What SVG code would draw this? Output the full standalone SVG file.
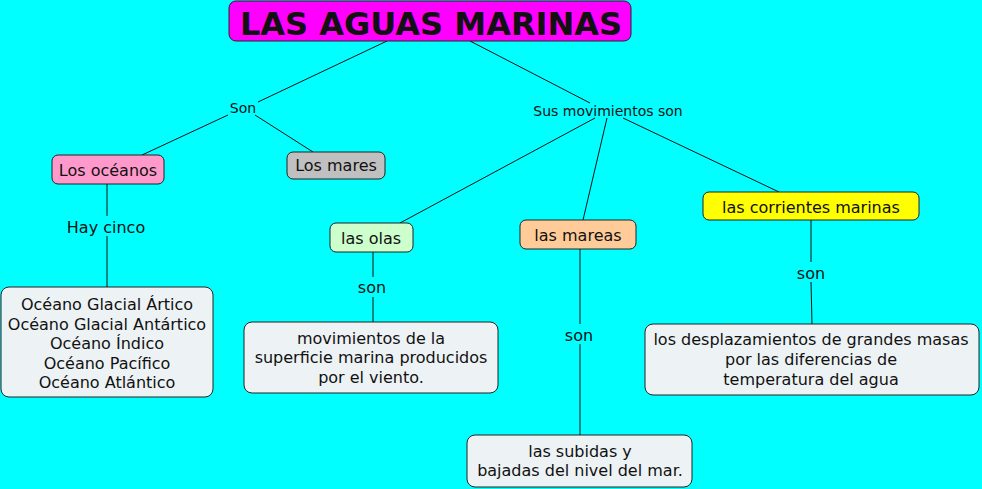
<svg xmlns="http://www.w3.org/2000/svg" width="982" height="489" viewBox="0 0 982 489">
<style>
.bg{fill:#00ffff}
.n{stroke:#222;stroke-width:1}
.c line{stroke:#111;stroke-width:1}
text{font-family:"DejaVu Sans",Verdana,sans-serif;fill:#111;text-anchor:middle}
.t{font-size:16px}
.l{font-size:14px}
.h{font-size:32px;font-weight:bold}
.box{fill:#edf2f5}
</style>
<rect class="bg" width="982" height="489"/>
<g class="c">
<line x1="387" y1="41" x2="258" y2="102"/>
<line x1="228" y1="115" x2="142" y2="155"/>
<line x1="255" y1="115" x2="313" y2="152"/>
<line x1="470" y1="41" x2="590" y2="103"/>
<line x1="595" y1="118" x2="400" y2="223"/>
<line x1="607" y1="118" x2="583" y2="220"/>
<line x1="623" y1="118" x2="779" y2="192"/>
<line x1="107" y1="184" x2="107" y2="216"/>
<line x1="107" y1="236" x2="107" y2="287"/>
<line x1="373" y1="252" x2="373" y2="277"/>
<line x1="373" y1="297" x2="373" y2="322"/>
<line x1="580" y1="249" x2="580" y2="324"/>
<line x1="580" y1="344" x2="580" y2="435"/>
<line x1="811" y1="220" x2="811" y2="262"/>
<line x1="811" y1="282" x2="812" y2="324"/>
<text class="l" x="243" y="113">Son</text>
<text class="l" x="608" y="116">Sus movimientos son</text>
<text class="t" x="106" y="233">Hay cinco</text>
<text class="t" x="372" y="293">son</text>
<text class="t" x="579" y="341">son</text>
<text class="t" x="811" y="279">son</text>
</g>
<g id="title"><rect class="n" x="229" y="1" width="402" height="40" rx="7" fill="#ff00ff"/><text class="h" x="431" y="35">LAS AGUAS MARINAS</text></g>
<g id="oceanos"><rect class="n" x="52" y="155" width="112" height="29" rx="6" fill="#ff99cc"/><text class="t" x="108" y="176">Los océanos</text></g>
<g id="mares"><rect class="n" x="287" y="152" width="98" height="27" rx="6" fill="#c0c0c0"/><text class="t" x="336" y="171">Los mares</text></g>
<g id="olas"><rect class="n" x="330" y="223" width="83" height="29" rx="6" fill="#ccffcc"/><text class="t" x="371" y="244">las olas</text></g>
<g id="mareas"><rect class="n" x="520" y="220" width="116" height="29" rx="6" fill="#ffcc99"/><text class="t" x="578" y="241">las mareas</text></g>
<g id="corrientes"><rect class="n" x="703" y="192" width="216" height="28" rx="6" fill="#ffff00"/><text class="t" x="811" y="213">las corrientes marinas</text></g>
<g id="lista"><rect class="n box" x="1" y="287" width="212" height="110" rx="8"/>
<text class="t"><tspan x="107" y="310">Océano Glacial Ártico</tspan><tspan x="107" y="330">Océano Glacial Antártico</tspan><tspan x="107" y="349">Océano Índico</tspan><tspan x="107" y="369">Océano Pacífico</tspan><tspan x="107" y="388">Océano Atlántico</tspan></text></g>
<g id="def-olas"><rect class="n box" x="244" y="322" width="254" height="71" rx="8"/>
<text class="t"><tspan x="371" y="344">movimientos de la</tspan><tspan x="371" y="363">superficie marina producidos</tspan><tspan x="371" y="383">por el viento.</tspan></text></g>
<g id="def-mareas"><rect class="n box" x="467" y="435" width="225" height="52" rx="8"/>
<text class="t"><tspan x="580" y="457">las subidas y</tspan><tspan x="580" y="476">bajadas del nivel del mar.</tspan></text></g>
<g id="def-corrientes"><rect class="n box" x="645" y="324" width="334" height="71" rx="8"/>
<text class="t"><tspan x="811" y="345">los desplazamientos de grandes masas</tspan><tspan x="811" y="365">por las diferencias de</tspan><tspan x="811" y="385">temperatura del agua</tspan></text></g>
</svg>
